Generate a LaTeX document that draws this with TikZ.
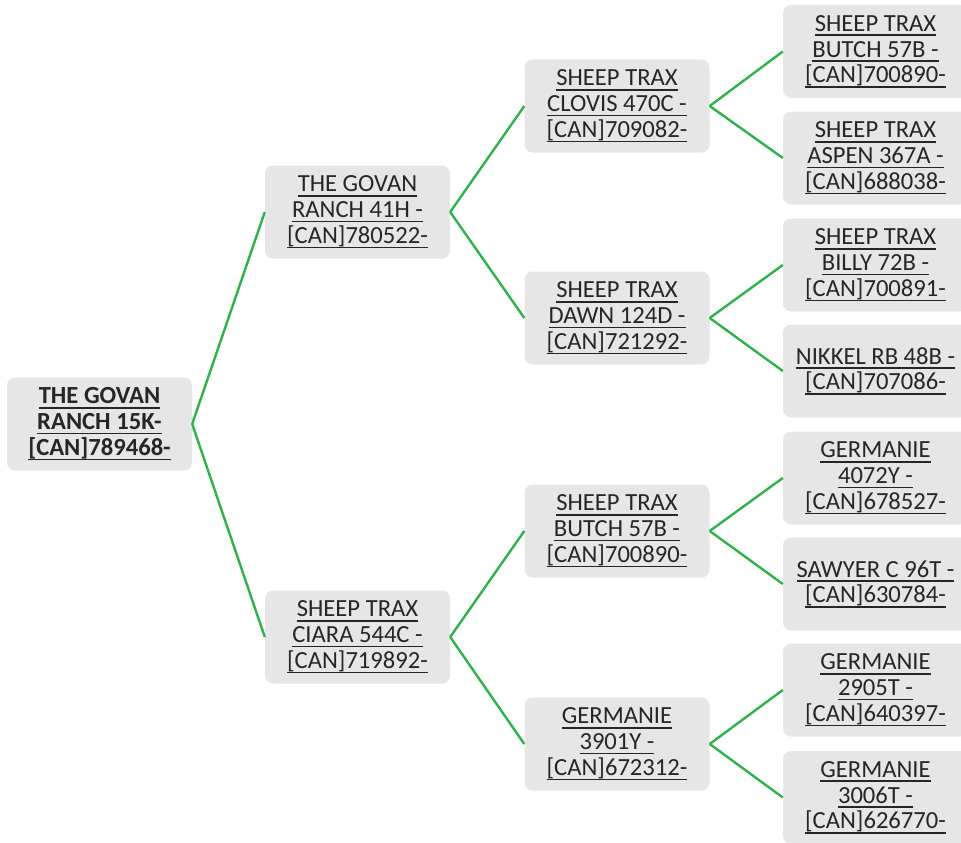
\documentclass[tikz,border=0pt]{standalone}
\usepackage{fontspec}
\setmainfont{Carlito}
\usepackage{tikz}
\definecolor{PedBox}{HTML}{E6E6E6}
\definecolor{PedText}{HTML}{262626}
\definecolor{PedLink}{HTML}{2DB34A}
\newsavebox{\pedbox}
\newcommand{\pul}[1]{\sbox{\pedbox}{#1}\rlap{\rule[-4.8pt]{\wd\pedbox}{1.6pt}}\usebox{\pedbox}}

\begin{document}
\begin{tikzpicture}[x=1pt,y=-1pt,
    animal/.style={fill=PedBox,rounded corners=8pt,minimum width=185pt,minimum height=93pt,
      inner sep=0pt,align=center,text=PedText,font=\fontsize{24.6}{25.8}\selectfont},
    link/.style={PedLink,line width=2.4pt}]
    \useasboundingbox (0,0) rectangle (961,843);
    \clip (0,0) rectangle (961,843);
    % generation 0
    \node[animal,font=\fontsize{24.6}{25.8}\selectfont\bfseries] (root) at (99.5,424) {\pul{THE GOVAN}\\\pul{RANCH 15K-}\\\pul{[CAN]789468-}};
    % generation 1
    \node[animal] (s) at (357.5,212) {\pul{THE GOVAN}\\\pul{RANCH 41H -}\\\pul{[CAN]780522-}};
    \node[animal] (d) at (357.5,637) {\pul{SHEEP TRAX}\\\pul{CIARA 544C -}\\\pul{[CAN]719892-}};
    % generation 2
    \node[animal] (ss) at (617,106) {\pul{SHEEP TRAX}\\\pul{CLOVIS 470C -}\\\pul{[CAN]709082-}};
    \node[animal] (sd) at (617,318) {\pul{SHEEP TRAX}\\\pul{DAWN 124D -}\\\pul{[CAN]721292-}};
    \node[animal] (ds) at (617,531) {\pul{SHEEP TRAX}\\\pul{BUTCH 57B -}\\\pul{[CAN]700890-}};
    \node[animal] (dd) at (617,744) {\pul{GERMANIE}\\\pul{3901Y -}\\\pul{[CAN]672312-}};
    % generation 3
    \node[animal] (sss) at (875.5,51.5) {\pul{SHEEP TRAX}\\\pul{BUTCH 57B -}\\\pul{[CAN]700890-}};
    \node[animal] (ssd) at (875.5,158) {\pul{SHEEP TRAX}\\\pul{ASPEN 367A -}\\\pul{[CAN]688038-}};
    \node[animal] (sds) at (875.5,265) {\pul{SHEEP TRAX}\\\pul{BILLY 72B -}\\\pul{[CAN]700891-}};
    \node[animal] (sdd) at (875.5,371) {\pul{NIKKEL RB 48B -}\\\pul{[CAN]707086-}};
    \node[animal] (dss) at (875.5,478) {\pul{GERMANIE}\\\pul{4072Y -}\\\pul{[CAN]678527-}};
    \node[animal] (dsd) at (875.5,584) {\pul{SAWYER C 96T -}\\\pul{[CAN]630784-}};
    \node[animal] (dds) at (875.5,690) {\pul{GERMANIE}\\\pul{2905T -}\\\pul{[CAN]640397-}};
    \node[animal] (ddd) at (875.5,797.5) {\pul{GERMANIE}\\\pul{3006T -}\\\pul{[CAN]626770-}};
    % links
    \foreach \a/\b in {root/s,root/d,s/ss,s/sd,d/ds,d/dd,ss/sss,ss/ssd,sd/sds,sd/sdd,ds/dss,ds/dsd,dd/dds,dd/ddd} {
      \draw[link] (\a.east) -- (\b.west);
    }
  \end{tikzpicture}
\end{document}
